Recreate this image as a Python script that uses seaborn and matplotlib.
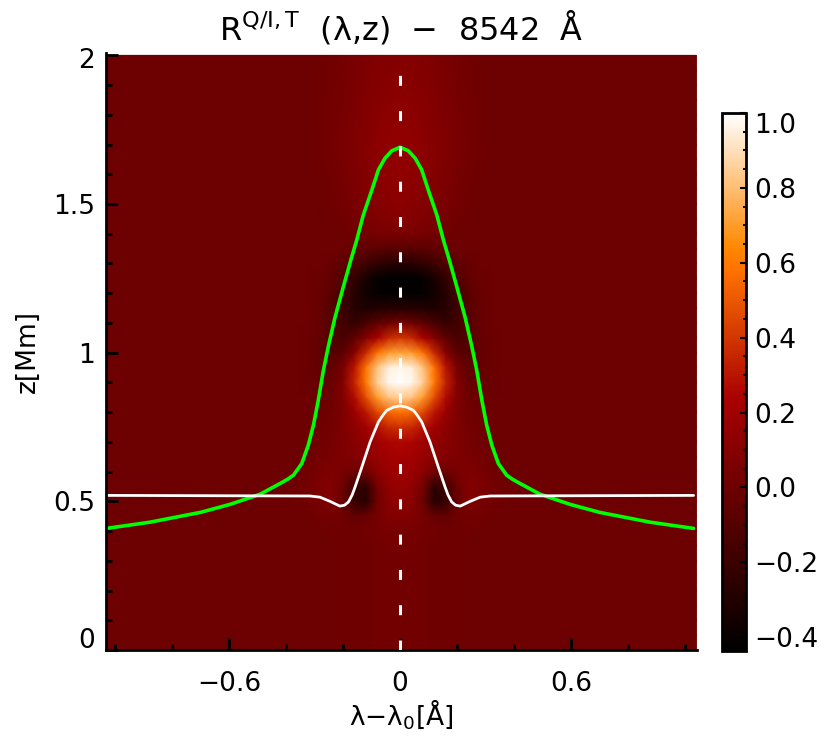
import numpy as np
import matplotlib
matplotlib.use("Agg")
import matplotlib.pyplot as plt
import matplotlib.transforms as mtrans
from matplotlib.colors import LinearSegmentedColormap
import seaborn as sns

# response function, right half only (mirrored below), rows z=0..2 step 0.05
half_x = [0, .04, .08, .12, .16, .20, .24, .28, .32, .36, .40, .44]
half_map = [
    [.02, .02, .02, .01, .01, .01, 0, 0, 0, 0, 0, 0],
    [.02, .02, .02, .01, .01, .01, 0, 0, 0, 0, 0, 0],
    [.02, .02, .02, .01, .01, .01, 0, 0, 0, 0, 0, 0],
    [.02, .02, .02, .01, .01, .01, 0, 0, 0, 0, 0, 0],
    [.02, .02, .02, .01, .01, .01, 0, 0, 0, 0, 0, 0],
    [.02, .02, .02, .01, .01, .01, 0, 0, 0, 0, 0, 0],
    [.02, .02, .02, .01, .01, .01, 0, 0, 0, 0, 0, 0],
    [.03, .03, .02, .01, .01, .01, 0, 0, 0, 0, 0, 0],
    [.04, .04, .03, .02, .01, .01, .01, 0, 0, 0, 0, 0],
    [.09, .08, .04, -.02, -.04, .01, .03, .02, .01, 0, 0, 0],
    [.13, .11, .01, -.28, -.22, -.02, .07, .05, .02, .01, 0, 0],
    [.17, .14, .03, -.26, -.19, 0, .09, .07, .03, .01, 0, 0],
    [.20, .18, .12, .02, 0, .05, .07, .05, .02, .01, 0, 0],
    [.22, .21, .17, .12, .09, .07, .05, .03, .01, 0, 0, 0],
    [.26, .25, .20, .15, .11, .07, .04, .02, .01, 0, 0, 0],
    [.38, .36, .29, .20, .13, .07, .03, .01, .01, 0, 0, 0],
    [.58, .55, .45, .30, .17, .07, .02, 0, 0, 0, 0, 0],
    [.85, .82, .70, .47, .27, .09, 0, -.01, 0, 0, 0, 0],
    [1.0, .97, .85, .60, .34, .09, -.02, -.02, -.01, 0, 0, 0],
    [.97, .95, .82, .58, .30, .05, -.05, -.04, -.01, 0, 0, 0],
    [.72, .70, .58, .36, .10, -.07, -.09, -.04, -.01, 0, 0, 0],
    [.40, .36, .24, .08, -.06, -.14, -.10, -.03, -.01, 0, 0, 0],
    [.03, 0, -.06, -.14, -.22, -.17, -.09, -.03, 0, 0, 0, 0],
    [-.28, -.29, -.30, -.31, -.28, -.19, -.09, -.03, 0, 0, 0, 0],
    [-.42, -.42, -.41, -.36, -.28, -.16, -.07, -.02, 0, 0, 0, 0],
    [-.43, -.43, -.41, -.34, -.23, -.11, -.04, -.01, 0, 0, 0, 0],
    [-.28, -.27, -.24, -.18, -.12, -.06, -.02, 0, 0, 0, 0, 0],
    [-.08, -.08, -.07, -.05, -.02, 0, 0, 0, 0, 0, 0, 0],
    [.05, .05, .04, .025, .015, .005, 0, 0, 0, 0, 0, 0],
    [.10, .09, .075, .05, .03, .015, .005, 0, 0, 0, 0, 0],
    [.12, .11, .095, .07, .045, .025, .01, 0, 0, 0, 0, 0],
    [.13, .12, .105, .08, .055, .03, .015, .005, 0, 0, 0, 0],
    [.14, .13, .115, .09, .065, .04, .02, .01, 0, 0, 0, 0],
    [.15, .14, .12, .095, .07, .045, .025, .01, 0, 0, 0, 0],
    [.15, .14, .12, .095, .07, .05, .03, .015, .005, 0, 0, 0],
    [.14, .135, .115, .09, .07, .045, .025, .01, 0, 0, 0, 0],
    [.13, .125, .11, .085, .065, .045, .025, .01, 0, 0, 0, 0],
    [.12, .115, .10, .08, .06, .04, .025, .01, 0, 0, 0, 0],
    [.11, .105, .09, .075, .055, .04, .02, .01, 0, 0, 0, 0],
    [.10, .095, .085, .07, .05, .035, .02, .01, 0, 0, 0, 0],
    [.09, .085, .075, .06, .045, .03, .015, .005, 0, 0, 0, 0],
]
dx = .04
dz = .05

# curves, left half (mirrored)
green_x = [-1.03, -.877, -.70, -.596, -.491, -.421, -.395, -.374, -.345, -.322, -.304, -.287, -.269, -.252,
           -.228, -.199, -.173, -.152, -.129, -.099, -.076, -.053, -.029, 0]
green_z = [.409, .43, .463, .49, .524, .56, .574, .588, .627, .689, .756, .84, .941, 1.02,
           1.12, 1.222, 1.311, 1.379, 1.463, 1.547, 1.615, 1.654, 1.679, 1.691]
white_x = [-1.03, -.316, -.281, -.246, -.211, -.195, -.181, -.168, -.158, -.134, -.105, -.076, -.06, -.047, -.023, 0]
white_z = [.52, .518, .514, .50, .484, .487, .498, .522, .548, .616, .70, .767, .79, .806, .817, .821]

cbar_ticks = [-.4, -.2, 0, .2, .4, .6, .8, 1.0]
cbar_labels = ['\u22120.4', '\u22120.2', '0.0', '0.2', '0.4', '0.6', '0.8', '1.0']

sns.set_style("white")
plt.rcParams['font.family'] = ['DejaVu Sans']
plt.rcParams['text.color'] = 'black'
plt.rcParams['axes.labelcolor'] = 'black'
plt.rcParams['xtick.labelcolor'] = 'black'
plt.rcParams['ytick.labelcolor'] = 'black'
plt.rcParams['mathtext.fontset'] = 'custom'
plt.rcParams['mathtext.rm'] = 'DejaVu Sans'

right = np.pad(np.array(half_map), ((0, 0), (0, 15)), constant_values=0)
full = np.hstack([right[:, :0:-1], right])

cmap = LinearSegmentedColormap.from_list("redtemp", [
    (0, '#000000'), (.47, '#a90000'), (.71, '#ff7300'), (.75, '#ff8800'), (1, '#ffffff')])

W, H = 828, 739
fig = plt.figure(figsize=(W / 100, H / 100), dpi=100)
ax = fig.add_axes([106 / W, 1 - 650 / H, 591 / W, 597 / H])
cax = fig.add_axes([722 / W, 1 - 651 / H, 24 / W, 538 / H])

sns.heatmap(full, ax=ax, cbar_ax=cax, cmap=cmap, vmin=-.437, vmax=1.0, shading='gouraud',
            xticklabels=False, yticklabels=False, cbar_kws={'ticks': cbar_ticks})
# heatmap works in cell indices, move the mesh to wavelength/height
mesh = ax.collections[0]
mesh.set_transform(mtrans.Affine2D().scale(dx, dz).translate(-1.04, 0) + ax.transData)

g_x = green_x + [-v for v in green_x[-2::-1]]
g_z = green_z + green_z[-2::-1]
w_x = white_x + [-v for v in white_x[-2::-1]]
w_z = white_z + white_z[-2::-1]
sns.lineplot(x=g_x, y=g_z, ax=ax, color='#00ff00', lw=2.6, sort=False, estimator=None, errorbar=None)
sns.lineplot(x=w_x, y=w_z, ax=ax, color='white', lw=2.0, sort=False, estimator=None, errorbar=None)
ax.plot([0, 0], [0, 1.935], color='white', lw=2.2, dashes=(3.27, 8.28), dash_capstyle='butt', zorder=4)

ax.set_xlim(-1.032, 1.042)
ax.set_ylim(0, 2.008)
ax.set_axisbelow(False)
for s in ['top', 'right']:
    ax.spines[s].set_visible(False)
for s in ['left', 'bottom']:
    ax.spines[s].set_visible(True)
    ax.spines[s].set_color('black')
    ax.spines[s].set_linewidth(2)
ax.set_xticks([-.6, 0, .6])
ax.set_xticklabels(['\u22120.6', '0', '0.6'], fontsize=19)
ax.set_xticks(np.arange(-10, 11, 2) / 10, minor=True)
ax.set_yticks([0, .5, 1, 1.5, 2])
ax.set_yticklabels(['0', '0.5', '1', '1.5', '2'], fontsize=19)
ax.set_yticks(np.arange(0, 21) / 10, minor=True)
ax.tick_params(which='major', direction='in', length=8.5, width=2, color='black',
               bottom=True, left=True, labelbottom=True, labelleft=True)
ax.tick_params(axis='x', which='major', pad=15)
ax.tick_params(axis='y', which='major', pad=8)
ax.tick_params(which='minor', direction='in', length=4.3, width=2, color='black', bottom=True, left=True)
# the 0 sits on the axis line, the 2 a bit under its tick
ylabs = ax.get_yticklabels()
ylabs[0].set_va('bottom')
ylabs[0].set_transform(ylabs[0].get_transform() + mtrans.ScaledTranslation(0, -.04, fig.dpi_scale_trans))
ylabs[-1].set_transform(ylabs[-1].get_transform() + mtrans.ScaledTranslation(0, -.03, fig.dpi_scale_trans))
ax.set_xlabel('\u03bb\u2212\u03bb$_{0}$[\u00c5]', fontsize=19, labelpad=0, visible=True)
ax.set_ylabel('z[Mm]', fontsize=19, labelpad=9, visible=True)
ax.set_title('$\\mathrm{R^{Q/I,T}}$  (\u03bb,z)  \u2212  8542  \u00c5', fontsize=23, pad=10)

cb = mesh.colorbar
cb.set_ticklabels(cbar_labels)
cb.outline.set_visible(True)
cb.outline.set_edgecolor('black')
cb.outline.set_linewidth(2)
cax.set_axisbelow(False)
cax.yaxis.set_ticks_position('right')
cax.set_yticks(np.arange(-8, 21) / 20, minor=True)
cax.tick_params(which='major', direction='in', length=4, width=1.5, color='black', right=True, labelsize=19, pad=6)
cax.tick_params(which='minor', direction='in', length=2, width=1.5, color='black', right=True)
cax.get_yticklabels()[-1].set_va('top')

fig.savefig('out.png', dpi=100)
